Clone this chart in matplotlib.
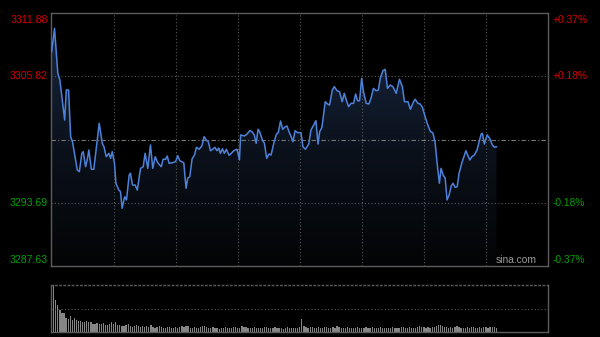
import numpy as np
import matplotlib.pyplot as plt
from matplotlib.colors import LinearSegmentedColormap
from matplotlib.transforms import blended_transform_factory, offset_copy

# minutes since the open and index level
minutes = [0.0, 1.4, 3.0, 4.0, 6.3, 7.1, 8.2, 9.2, 10.1, 12.4, 13.4, 14.6, 15.3, 16.4, 17.2,
           18.0, 19.2, 20.4, 23.0, 24.5, 25.3, 26.4, 27.7, 28.5, 29.3, 30.4, 31.1, 32.5, 33.3,
           34.1, 35.3, 36.2, 37.5, 38.1, 39.1, 40.4, 41.4, 43.0, 44.3, 45.2, 46.5, 47.8, 48.9,
           50.1, 51.3, 53.0, 53.9, 55.1, 55.9, 56.8, 58.4, 59.9, 61.0, 62.0, 63.9, 65.0, 65.8,
           66.8, 67.9, 69.1, 70.0, 71.3, 72.6, 73.7, 74.8, 75.8, 76.8, 77.9, 78.9, 80.0, 80.8,
           81.6, 82.6, 83.5, 84.5, 85.8, 86.9, 88.0, 89.7, 90.8, 91.4, 93.2, 94.5, 95.8, 96.9,
           98.0, 98.9, 99.8, 100.6, 101.9, 102.9, 104.0, 105.1, 106.1, 107.4, 108.7, 109.6,
           110.7, 111.7, 113.0, 113.8, 114.8, 115.8, 116.7, 117.7, 118.9, 120.6, 121.5, 122.7,
           124.3, 125.4, 126.7, 127.8, 128.8, 129.6, 130.7, 132.3, 133.4, 134.4, 135.7, 136.7,
           138.0, 139.2, 140.5, 141.5, 142.5, 143.6, 144.7, 146.0, 147.0, 147.9, 148.9, 149.9,
           150.8, 152.1, 153.4, 154.4, 155.6, 156.9, 158.0, 158.9, 160.2, 161.3, 162.4, 163.7,
           165.0, 166.6, 168.2, 169.6, 170.6, 172.3, 173.5, 175.0, 175.8, 177.1, 178.2, 179.3,
           180.6, 181.9, 183.2, 184.3, 185.4, 186.4, 187.5, 188.3, 189.3, 190.3, 191.2, 192.2,
           193.2, 194.1, 195.1, 196.1, 197.0, 198.3, 200.3, 201.2, 202.2, 203.2, 204.4, 205.7,
           206.7, 207.7, 208.3, 209.2, 210.6, 211.8, 213.1, 214.1, 215.1]
prices = [3308.17, 3310.41, 3306.10, 3305.46, 3301.62, 3304.50, 3304.50, 3300.02, 3299.54,
          3296.83, 3296.67, 3298.43, 3298.59, 3297.15, 3297.79, 3298.75, 3296.90, 3296.90,
          3301.31, 3299.39, 3299.06, 3298.11, 3298.43, 3297.95, 3298.59, 3297.47, 3295.56,
          3294.91, 3294.75, 3293.16, 3294.27, 3293.96, 3296.35, 3296.52, 3295.39, 3295.39,
          3294.91, 3296.99, 3297.15, 3298.43, 3296.99, 3299.23, 3296.99, 3298.11, 3297.53,
          3297.15, 3297.86, 3297.86, 3298.17, 3297.47, 3297.53, 3297.63, 3298.20, 3297.72,
          3297.53, 3295.08, 3296.04, 3296.19, 3297.89, 3298.27, 3299.01, 3298.82, 3299.13,
          3300.02, 3299.71, 3299.52, 3298.68, 3298.82, 3299.01, 3298.68, 3298.94, 3298.43,
          3298.87, 3298.43, 3298.82, 3298.24, 3298.43, 3298.68, 3298.82, 3297.79, 3300.19,
          3300.09, 3300.28, 3300.60, 3300.50, 3300.19, 3299.39, 3300.73, 3300.50, 3299.71,
          3299.39, 3297.95, 3298.37, 3298.27, 3299.39, 3300.28, 3300.41, 3301.53, 3300.73,
          3300.98, 3301.05, 3300.50, 3300.02, 3299.54, 3300.60, 3300.41, 3300.41, 3299.06,
          3298.82, 3299.32, 3300.67, 3301.14, 3301.56, 3299.32, 3300.50, 3300.92, 3303.38,
          3303.16, 3303.06, 3304.50, 3304.82, 3304.43, 3304.34, 3303.38, 3304.18, 3303.54,
          3302.90, 3303.22, 3303.22, 3304.12, 3303.47, 3303.47, 3305.62, 3304.34, 3303.22,
          3303.16, 3303.70, 3304.66, 3304.43, 3304.50, 3305.62, 3306.35, 3306.48, 3304.66,
          3304.98, 3304.82, 3304.18, 3305.53, 3304.82, 3303.38, 3303.38, 3302.65, 3303.38,
          3303.61, 3303.22, 3303.16, 3302.84, 3301.94, 3301.14, 3300.50, 3300.41, 3299.54,
          3297.47, 3295.56, 3296.99, 3296.35, 3296.04, 3293.96, 3294.44, 3295.30, 3295.56,
          3295.17, 3295.23, 3296.52, 3297.47, 3298.68, 3298.27, 3297.79, 3298.11, 3298.27,
          3298.75, 3299.54, 3300.28, 3300.35, 3299.32, 3300.19, 3299.87, 3299.23, 3299.01,
          3299.06]

# volume per minute, in percent of the panel height
volumes = [33, 100, 68, 57, 47, 41, 40, 30, 27, 33, 26, 29, 26, 24, 23, 21, 22, 23, 21, 21, 18,
           17, 19, 16, 18, 20, 15, 14, 16, 22, 17, 21, 14, 15, 13, 12, 14, 16, 12, 11, 13,
           14, 12, 11, 13, 10, 12, 11, 14, 10, 9, 11, 12, 10, 9, 8, 10, 11, 9, 8, 10,
           9, 11, 12, 10, 13, 12, 9, 8, 10, 9, 8, 11, 12, 13, 10, 9, 8, 10, 9, 8,
           7, 9, 8, 10, 9, 8, 9, 11, 10, 8, 9, 12, 11, 10, 9, 8, 9, 10, 8, 9,
           8, 9, 10, 11, 9, 8, 9, 10, 8, 9, 8, 7, 9, 10, 9, 8, 9, 8, 9, 10,
           27, 13, 10, 9, 10, 11, 9, 9, 10, 8, 9, 10, 11, 9, 8, 10, 9, 12, 10, 9,
           8, 9, 10, 9, 8, 9, 8, 10, 9, 8, 9, 10, 9, 8, 10, 9, 8, 9, 10, 9,
           8, 9, 8, 9, 10, 9, 8, 9, 11, 10, 8, 9, 10, 9, 8, 9, 10, 12, 11, 10,
           9, 10, 9, 11, 10, 12, 15, 14, 12, 11, 10, 9, 10, 9, 11, 12, 10, 9, 8, 9,
           10, 9, 11, 10, 9, 8, 10, 9, 11, 10, 9, 10, 11, 10, 9]

prev_close = 3299.755
price_ticks = [3311.88, 3305.82, 3293.69, 3287.63]
price_labels = ['3311.88', '3305.82', '3293.69', '3287.63']
pct_labels = ['+0.37%', '+0.18%', '-0.18%', '-0.37%']
label_colors = ['#d40000', '#d40000', '#00a000', '#00a000']

plt.rcParams['font.family'] = ['Liberation Sans', 'DejaVu Sans']

fig = plt.figure(figsize=(6, 3.37), dpi=100, facecolor='black')
ax = fig.add_axes([0.085, 0.2107, 0.8283, 0.7507])
ax.set_facecolor('black')
ymin, ymax = price_ticks[-1], price_ticks[0]
ax.set_xlim(-0.3, 240)
ax.set_ylim(ymin, ymax)

# gradient fill under the line
poly = ax.fill_between(minutes, prices, ymin, color='none', lw=0)
cmap = LinearSegmentedColormap.from_list('fade', ['#030405', '#0b111b', '#17253d'])
im = ax.imshow(np.linspace(1, 0, 256).reshape(-1, 1), cmap=cmap, aspect='auto',
               extent=[-0.3, 240, ymin, 3309.5], zorder=1)
im.set_clip_path(poly.get_paths()[0], transform=ax.transData)

ax.plot(minutes, prices, color='#4d82db', lw=1.1, zorder=3)

for t in range(30, 240, 30):
    ax.axvline(t, color='#5a5a5a', ls=(0, (1, 2)), lw=0.8, zorder=2)
for p in [price_ticks[1], price_ticks[2]]:
    ax.axhline(p, color='#5a5a5a', ls=(0, (1, 2)), lw=0.8, zorder=2)
ax.axhline(prev_close, color='#777777', ls=(0, (4, 2, 1, 2)), lw=0.8, zorder=2)

ax.set_xticks([])
ax.set_yticks([])
for s in ax.spines.values():
    s.set_color('#5c5c5c')
    s.set_linewidth(1.0)

trans_l = blended_transform_factory(ax.transAxes, ax.transData)
vas = ['top', 'center', 'center', 'bottom']
for p, lab, pct, c, va in zip(price_ticks, price_labels, pct_labels, label_colors, vas):
    dy = -1.5 if va == 'top' else (1 if va == 'bottom' else 0)
    tr = offset_copy(trans_l, fig=fig, x=0, y=dy, units='points')
    ax.text(-0.006, p, lab, transform=tr, ha='right', va=va, color=c, fontsize=7.6)
    ax.text(1.01, p, pct, transform=tr, ha='left', va=va, color=c, fontsize=7.4)

ax.text(0.978, 0.005, 'sina.com', transform=ax.transAxes, ha='right', va='bottom',
        color='#9a9a9a', fontsize=7.4, zorder=4)

# volume panel
vx = fig.add_axes([0.085, 0.0148, 0.8283, 0.1395])
vx.set_facecolor('black')
vx.bar(range(len(volumes)), volumes, width=0.6, color='#858585', lw=0)
vx.set_xlim(-0.3, 240)
vx.set_ylim(0, 100)
vx.axhline(49, color='#5a5a5a', ls=(0, (1, 2)), lw=0.8)
vx.set_xticks([])
vx.set_yticks([])
for s in vx.spines.values():
    s.set_color('#5c5c5c')
    s.set_linewidth(1.0)
vx.spines['top'].set_linestyle((0, (1, 2)))

fig.savefig('out.png', dpi=100, facecolor='black')
